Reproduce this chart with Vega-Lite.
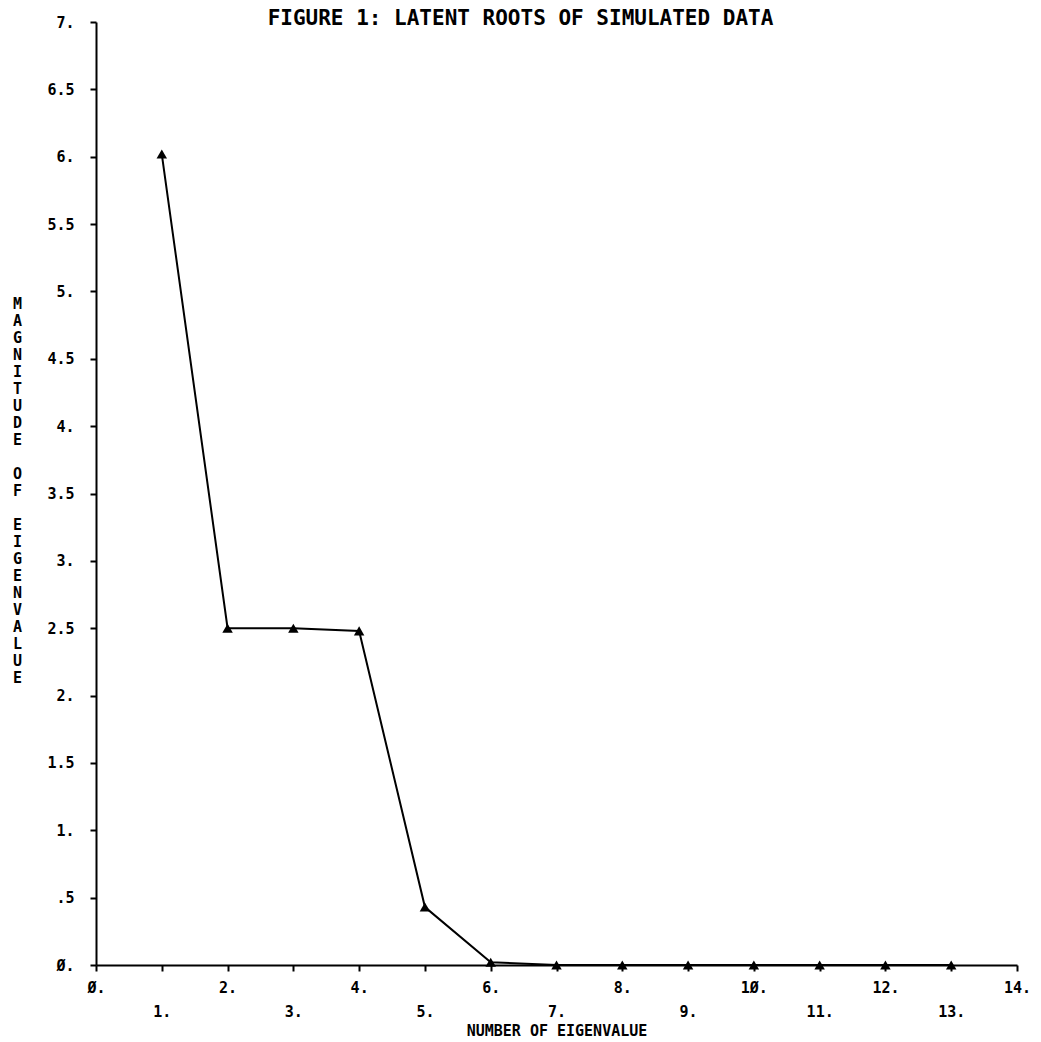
{
  "$schema": "https://vega.github.io/schema/vega-lite/v6.json",
  "width": 921,
  "height": 943,
  "autosize": {"type": "none"},
  "padding": {"left": 96, "top": 22, "right": 24, "bottom": 77},
  "background": "white",
  "config": {
    "view": {"stroke": null},
    "axis": {
      "domainColor": "black",
      "domainWidth": 2,
      "tickColor": "black",
      "tickWidth": 2,
      "labelColor": "black",
      "titleColor": "black",
      "labelFont": "DejaVu Sans Mono",
      "titleFont": "DejaVu Sans Mono",
      "labelFontWeight": "bold",
      "titleFontWeight": "bold",
      "labelFontSize": 15,
      "titleFontSize": 15,
      "grid": false
    }
  },
  "title": {
    "text": "FIGURE 1: LATENT ROOTS OF SIMULATED DATA",
    "font": "DejaVu Sans Mono",
    "fontWeight": "bold",
    "fontSize": 21,
    "color": "black",
    "anchor": "middle",
    "frame": "group",
    "dx": -36,
    "offset": -14
  },
  "data": {
    "values": [
      {"n": 1, "root": 6.02},
      {"n": 2, "root": 2.5},
      {"n": 3, "root": 2.5},
      {"n": 4, "root": 2.48},
      {"n": 5, "root": 0.43},
      {"n": 6, "root": 0.02},
      {"n": 7, "root": 0.0},
      {"n": 8, "root": 0.0},
      {"n": 9, "root": 0.0},
      {"n": 10, "root": 0.0},
      {"n": 11, "root": 0.0},
      {"n": 12, "root": 0.0},
      {"n": 13, "root": 0.0}
    ]
  },
  "mark": {
    "type": "line",
    "color": "black",
    "strokeWidth": 2,
    "clip": false,
    "point": {"filled": true, "shape": "triangle-up", "size": 110, "color": "black"}
  },
  "encoding": {
    "x": {
      "field": "n",
      "type": "quantitative",
      "scale": {"domain": [0, 14], "nice": false, "zero": false},
      "axis": {
        "title": "NUMBER OF EIGENVALUE",
        "values": [0,1,2,3,4,5,6,7,8,9,10,11,12,13,14],
        "labelExpr": "replace(toString(datum.value), regexp('0', 'g'), 'Ø') + '.'",
        "labelPadding": {"condition": {"test": "datum.value % 2 == 1", "value": 33}, "value": 9},
        "labelBaseline": "top",
        "labelFlush": false,
        "labelOverlap": false,
        "tickSize": 6,
        "titleY": 65,
        "titleBaseline": "middle"
      }
    },
    "y": {
      "field": "root",
      "type": "quantitative",
      "scale": {"domain": [0, 7], "nice": false},
      "axis": {
        "title": ["M","A","G","N","I","T","U","D","E","\u2800","O","F","\u2800","E","I","G","E","N","V","A","L","U","E"],
        "titleAngle": 0,
        "titleAlign": "center",
        "titleBaseline": "middle",
        "titleX": -79,
        "titleY": 281,
        "titleLineHeight": 17,
        "values": [0,0.5,1,1.5,2,2.5,3,3.5,4,4.5,5,5.5,6,6.5,7],
        "labelExpr": "datum.value == 0 ? 'Ø.' : (datum.value < 1 ? '.5' : (datum.value % 1 == 0 ? toString(datum.value) + '.' : toString(datum.value)))",
        "labelPadding": 16,
        "labelFlush": false,
        "labelOverlap": false,
        "tickSize": 6
      }
    }
  }
}
